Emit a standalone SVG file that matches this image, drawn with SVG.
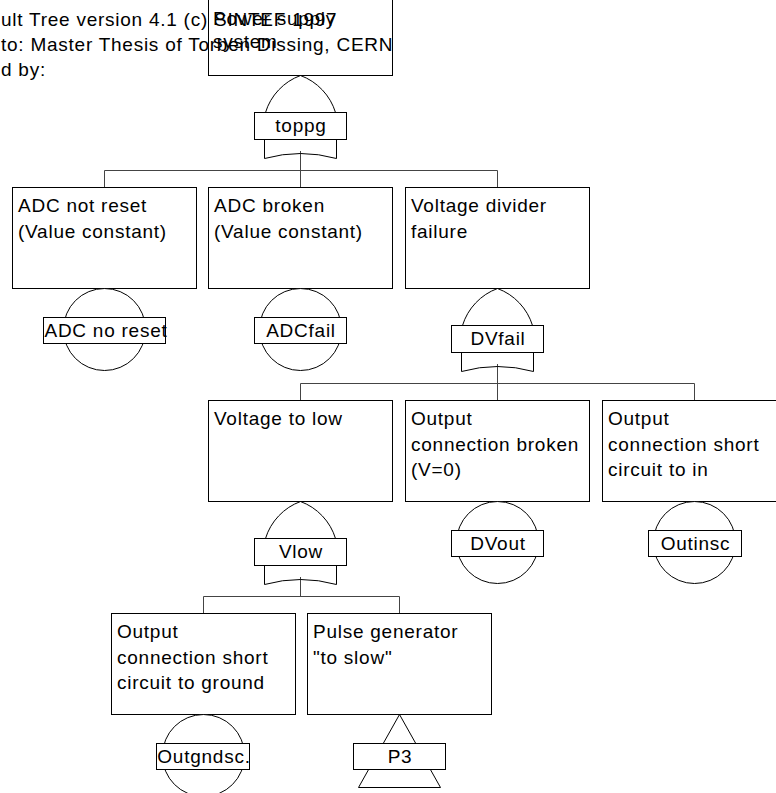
<svg xmlns="http://www.w3.org/2000/svg" width="776" height="793" viewBox="0 0 776 793">
  <style>
    text { font-family: "Liberation Sans", Arial, sans-serif; font-size: 19px; letter-spacing: 0.75px; fill: #000; }
    .lbl { text-anchor: middle; }
    .box { fill: #fff; stroke: #000; stroke-width: 1; }
    .shape { fill: #fff; stroke: #000; stroke-width: 1; }
    .line { fill: none; stroke: #000; stroke-width: 1; }
    .conn { fill: none; stroke: #444; stroke-width: 1; }
  </style>
  <defs>
    <!-- OR gate drawn around local origin: apex at (0,0) -->
    <g id="orgate">
      <path class="line" d="M -35,37 A 57.5 57.5 0 0 1 0,0 A 57.5 57.5 0 0 1 35,37"/>
      <path class="line" d="M -36,64 V 83 Q 0,73 36,83 V 64"/>
      <rect class="box" x="-46" y="37" width="92" height="27"/>
    </g>
  </defs>

  <rect width="776" height="793" fill="#fff"/>

  <!-- header lines -->
  <g id="header">
    <text x="1" y="26">ult Tree version 4.1 (c) SINTEF 1997</text>
    <text x="1" y="51">to: Master Thesis of Torben Dissing, CERN</text>
    <text x="1" y="76">d by:</text>
  </g>

  <!-- connectors -->
  <g id="connectors">
    <path class="conn" d="M 300.5,151 V 187.5 M 104.5,187.5 V 170.5 H 497.5 V 187.5"/>
    <path class="conn" d="M 497.5,364 V 400.5 M 300.5,400.5 V 383.5 H 694.5 V 400.5"/>
    <path class="conn" d="M 300.5,577 V 596.5 M 203.5,613.5 V 596.5 H 399.5 V 613.5"/>
  </g>

  <!-- top event -->
  <g id="top">
    <rect class="box" x="208.5" y="-10" width="184" height="85.5" fill-opacity="0"/>
    <text x="213" y="25">Power supply</text>
    <text x="213" y="48">system</text>
  </g>
  <g id="toppg">
    <use href="#orgate" x="300.5" y="75.5"/>
    <text class="lbl" x="301" y="132">toppg</text>
  </g>

  <!-- level 1 -->
  <g id="adc-not-reset">
    <rect class="box" x="12.5" y="187.5" width="184" height="101"/>
    <text x="18" y="212">ADC not reset</text>
    <text x="18" y="238">(Value constant)</text>
    <circle class="shape" cx="104.5" cy="329.5" r="41"/>
    <rect class="box" x="43.5" y="317.5" width="122" height="26"/>
    <text class="lbl" x="106" y="337">ADC no reset</text>
  </g>
  <g id="adc-broken">
    <rect class="box" x="208.5" y="187.5" width="184" height="101"/>
    <text x="214" y="212">ADC broken</text>
    <text x="214" y="238">(Value constant)</text>
    <circle class="shape" cx="300.5" cy="329.5" r="41"/>
    <rect class="box" x="254.5" y="317.5" width="92" height="26"/>
    <text class="lbl" x="301" y="337">ADCfail</text>
  </g>
  <g id="divider-failure">
    <rect class="box" x="405.5" y="187.5" width="184" height="101"/>
    <text x="411" y="212">Voltage divider</text>
    <text x="411" y="238">failure</text>
  </g>
  <g id="dvfail">
    <use href="#orgate" x="497.5" y="288.5"/>
    <text class="lbl" x="498" y="345">DVfail</text>
  </g>

  <!-- level 2 -->
  <g id="voltage-low">
    <rect class="box" x="208.5" y="400.5" width="184" height="101"/>
    <text x="214" y="425">Voltage to low</text>
  </g>
  <g id="vlow">
    <use href="#orgate" x="300.5" y="501.5"/>
    <text class="lbl" x="301" y="558">Vlow</text>
  </g>
  <g id="out-broken">
    <rect class="box" x="405.5" y="400.5" width="184" height="101"/>
    <text x="411" y="425">Output</text>
    <text x="411" y="451">connection broken</text>
    <text x="411" y="476">(V=0)</text>
    <circle class="shape" cx="497.5" cy="542.5" r="41"/>
    <rect class="box" x="451.5" y="530.5" width="92" height="26"/>
    <text class="lbl" x="498" y="550">DVout</text>
  </g>
  <g id="out-short-in">
    <rect class="box" x="602.5" y="400.5" width="184" height="101"/>
    <text x="608" y="425">Output</text>
    <text x="608" y="451">connection short</text>
    <text x="608" y="476">circuit to in</text>
    <circle class="shape" cx="694.5" cy="542.5" r="41"/>
    <rect class="box" x="648.5" y="530.5" width="93" height="26"/>
    <text class="lbl" x="695.5" y="550">Outinsc</text>
  </g>

  <!-- level 3 -->
  <g id="out-short-gnd">
    <rect class="box" x="111.5" y="613.5" width="184" height="101"/>
    <text x="117" y="638">Output</text>
    <text x="117" y="664">connection short</text>
    <text x="117" y="689">circuit to ground</text>
    <circle class="shape" cx="203.5" cy="755.5" r="41"/>
    <rect class="box" x="156.5" y="743.5" width="93" height="26"/>
    <text class="lbl" x="204" y="763">Outgndsc.</text>
  </g>
  <g id="pulse-gen">
    <rect class="box" x="307.5" y="613.5" width="184" height="101"/>
    <text x="313" y="638">Pulse generator</text>
    <text x="313" y="664">"to slow"</text>
    <polygon class="shape" points="399.5,714.5 440.5,787.5 358.5,787.5"/>
    <rect class="box" x="353.5" y="743.5" width="92" height="26"/>
    <text class="lbl" x="400" y="763">P3</text>
  </g>
</svg>
